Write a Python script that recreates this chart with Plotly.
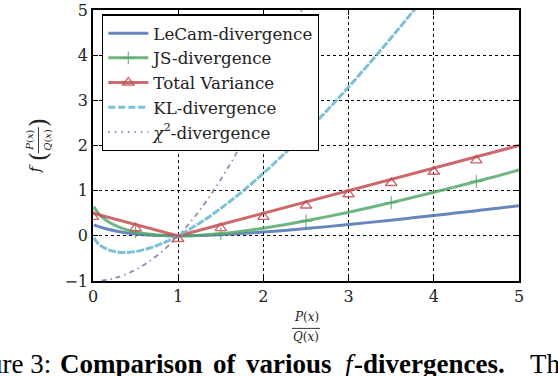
import plotly.graph_objects as go

# ---------------- data ----------------
x_vals = [0.01, 0.05, 0.1, 0.2, 0.3, 0.4, 0.5, 0.6, 0.7, 0.8, 0.9, 1.0,
          1.25, 1.5, 1.75, 2.0, 2.25, 2.5, 2.75, 3.0, 3.25, 3.5, 3.75,
          4.0, 4.25, 4.5, 4.75, 5.0]
lecam = [0.243, 0.215, 0.184, 0.133, 0.094, 0.064, 0.042, 0.025, 0.013, 0.006, 0.001, 0.0,
         0.007, 0.025, 0.051, 0.083, 0.120, 0.161, 0.204, 0.250, 0.298, 0.347, 0.398,
         0.450, 0.503, 0.557, 0.611, 0.667]
js = [0.644, 0.527, 0.427, 0.291, 0.199, 0.133, 0.085, 0.051, 0.027, 0.011, 0.003, 0.0,
      0.014, 0.050, 0.104, 0.170, 0.247, 0.332, 0.425, 0.523, 0.627, 0.736, 0.848,
      0.964, 1.083, 1.205, 1.328, 1.456]
kl = [-0.046, -0.150, -0.230, -0.322, -0.361, -0.367, -0.347, -0.306, -0.250, -0.179, -0.095, 0.0,
      0.279, 0.608, 0.979, 1.386, 1.825, 2.291, 2.782, 3.296, 3.831, 4.385, 4.957,
      5.545, 6.149, 6.768, 7.401, 8.047]
tv_x = [0.0, 0.5, 1.0, 1.5, 2.0, 2.5, 3.0, 3.5, 4.0, 4.5, 5.0]
tv = [0.5, 0.25, 0.0, 0.25, 0.5, 0.75, 1.0, 1.25, 1.5, 1.75, 2.0]
tv_mark_x = [0.0, 0.5, 1.0, 1.5, 2.0, 2.5, 3.0, 3.5, 4.0, 4.5]
tv_mark_y = [0.42, 0.17, -0.07, 0.17, 0.42, 0.67, 0.92, 1.17, 1.42, 1.67]
js_mark_x = [0.5, 1.5, 2.5, 3.5, 4.5]
js_mark_y = [0.085, 0.050, 0.332, 0.736, 1.205]
chi_x = [0.1, 0.25, 0.5, 0.75, 1.0, 1.25, 1.5, 1.75, 2.0, 2.25, 2.5]
chi = [-0.99, -0.94, -0.75, -0.44, 0.0, 0.56, 1.25, 2.06, 3.0, 4.06, 5.25]

names = ["LeCam-divergence", "JS-divergence", "Total Variance",
         "KL-divergence", "<i>χ</i><sup>2</sup>-divergence"]
x_ticks = [0, 1, 2, 3, 4, 5]
y_ticks = [-1, 0, 1, 2, 3, 4, 5]

# ---------------- style ----------------
C_BLUE = "rgba(76,114,176,0.85)"
C_GREEN = "rgba(85,168,104,0.85)"
C_RED = "rgba(196,78,82,0.85)"
C_CYAN = "rgba(100,181,205,0.85)"
C_PURPLE = "rgba(129,114,178,0.85)"
SERIF = "DejaVu Serif"
TNR = "Liberation Serif"
TXT = "#222"

W, H = 558, 376
L, R, T, B = 93, 519, 9.5, 281


def px(x):
    return (x - L) / (R - L)


def py(y):
    return (B - y) / (B - T)


fig = go.Figure()

# lines
fig.add_trace(go.Scatter(x=x_vals, y=lecam, mode="lines", line=dict(color=C_BLUE, width=3, shape="spline"),
                         showlegend=False, hoverinfo="skip"))
fig.add_trace(go.Scatter(x=x_vals, y=js, mode="lines", line=dict(color=C_GREEN, width=3, shape="spline"),
                         showlegend=False, hoverinfo="skip"))
fig.add_trace(go.Scatter(x=tv_x, y=tv, mode="lines", line=dict(color=C_RED, width=3),
                         showlegend=False, hoverinfo="skip"))
fig.add_trace(go.Scatter(x=x_vals, y=kl, mode="lines",
                         line=dict(color=C_CYAN, width=3, dash="8px,1.5px", shape="spline"),
                         showlegend=False, hoverinfo="skip"))
fig.add_trace(go.Scatter(x=chi_x, y=chi, mode="lines",
                         line=dict(color=C_PURPLE, width=1.8, dash="5px,4px,1.5px,4px", shape="spline"),
                         showlegend=False, hoverinfo="skip"))

JS_MARK = dict(symbol="cross-thin-open", size=9, color=C_GREEN, line=dict(color=C_GREEN, width=1.2))
TV_MARK = dict(symbol="triangle-up-open", size=10, color=C_RED, line=dict(color=C_RED, width=1.4))

# markers
fig.add_trace(go.Scatter(x=js_mark_x, y=js_mark_y, mode="markers", marker=JS_MARK,
                         showlegend=False, hoverinfo="skip"))
fig.add_trace(go.Scatter(x=tv_mark_x, y=tv_mark_y, mode="markers", marker=TV_MARK,
                         showlegend=False, hoverinfo="skip"))

# legend-only entries
legend_specs = [
    (names[0], dict(color=C_BLUE, width=3), None, "lines"),
    (names[1], dict(color=C_GREEN, width=3), JS_MARK, "lines+markers"),
    (names[2], dict(color=C_RED, width=3), TV_MARK, "lines+markers"),
    (names[3], dict(color=C_CYAN, width=3, dash="7px,3px"), None, "lines"),
    (names[4], dict(color=C_PURPLE, width=1.8, dash="1.5px,5px"), None, "lines"),
]
for i, (nm, ln, mk, mode) in enumerate(legend_specs):
    kw = dict(x=[None], y=[None], mode=mode, name=nm, line=ln, legendgroup=f"g{i}", showlegend=True)
    if mk is not None:
        kw["marker"] = mk
    fig.add_trace(go.Scatter(**kw))

axis_common = dict(
    showline=True, linecolor="black", linewidth=1.5, mirror="ticks",
    ticks="inside", ticklen=5, tickwidth=1, tickcolor="black",
    showgrid=True, gridcolor="black", gridwidth=1, griddash="dot",
    zeroline=False, automargin=False,
    tickfont=dict(family=SERIF, size=16, color=TXT),
)

fig.update_xaxes(range=[0, 5], tickvals=x_ticks, ticktext=[str(v) for v in x_ticks], **axis_common)
fig.update_yaxes(range=[-1, 5], tickvals=y_ticks,
                 ticktext=[("−" + str(-v)) if v < 0 else str(v) for v in y_ticks], **axis_common)


def ann(x, y, text, size, family=SERIF, angle=0, **kw):
    d = dict(x=px(x), y=py(y), xref="paper", yref="paper", text=text, textangle=angle,
             xanchor="center", yanchor="middle",
             showarrow=False, font=dict(family=family, size=size, color=TXT))
    d.update(kw)
    return d


annotations = []
# x-axis label: fraction P(x)/Q(x)
annotations.append(ann(306, 317, "<i>P</i>(<i>x</i>)", 12))
annotations.append(ann(306, 337, "<i>Q</i>(<i>x</i>)", 12))
# y-axis label: f( P(x)/Q(x) ) rotated
annotations.append(ann(35, 169, "<i>f</i>", 15, angle=-90))
annotations.append(ann(39, 157, "(", 24, angle=-90))
annotations.append(ann(39, 123, ")", 24, angle=-90))
annotations.append(ann(29.5, 140, "<i>P</i>(<i>x</i>)", 10, angle=-90))
annotations.append(ann(47.5, 140, "<i>Q</i>(<i>x</i>)", 10, angle=-90))

# caption (cropped at the figure edges)
cap_y = 347
cap = dict(family=TNR, size=27, color="black")
for xx, txt, anchor in [(53, "Figure 3:", "right"), (58, "<b>Comparison</b>", "left"),
                        (211, "<b>of</b>", "left"), (244, "<b>various</b>", "left"),
                        (343, "<i>f</i>", "left"), (352, "<b>-divergences.</b>", "left"),
                        (528, "The", "left")]:
    annotations.append(dict(x=px(xx), y=py(cap_y), xref="paper", yref="paper", text=txt,
                            xanchor=anchor, yanchor="top", showarrow=False, font=cap))

shapes = [
    dict(type="line", xref="paper", yref="paper", x0=px(292), x1=px(320), y0=py(328.5), y1=py(328.5),
         line=dict(color=TXT, width=0.9)),
    dict(type="line", xref="paper", yref="paper", x0=px(38.5), x1=px(38.5), y0=py(127), y1=py(153),
         line=dict(color=TXT, width=0.9)),
]

fig.update_layout(
    width=W, height=H,
    margin=dict(l=L, r=W - R, t=T, b=H - B, pad=0, autoexpand=False),
    paper_bgcolor="white", plot_bgcolor="white",
    showlegend=True,
    legend=dict(x=px(102), y=py(14), xanchor="left", yanchor="top",
                bgcolor="white", bordercolor="black", borderwidth=1.3,
                font=dict(family=SERIF, size=16.7, color=TXT),
                traceorder="grouped", tracegroupgap=0, itemwidth=40),
    annotations=annotations,
    shapes=shapes,
)

fig.write_html("out.html", config={"displayModeBar": False},
               post_script="document.body.style.margin='0';document.body.style.overflow='hidden';")
